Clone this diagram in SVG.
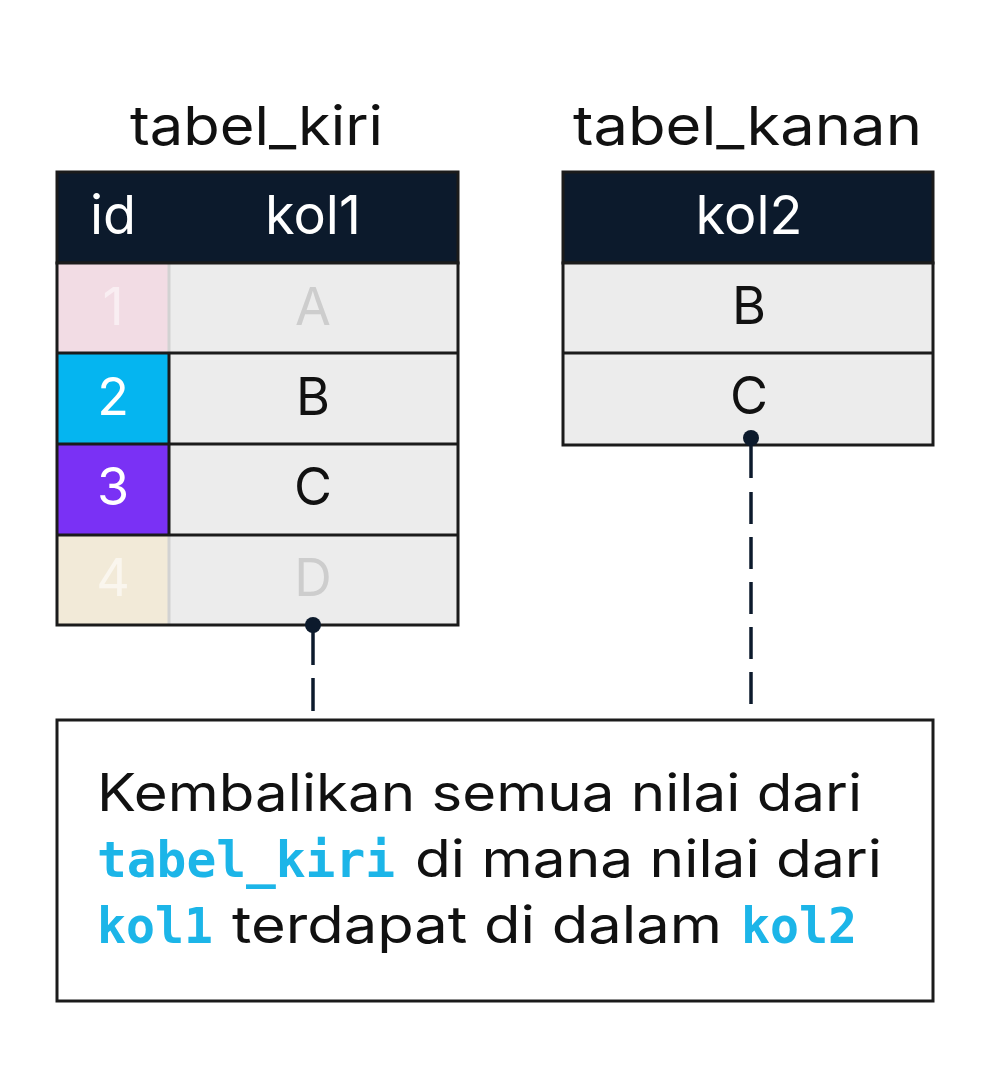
<svg xmlns="http://www.w3.org/2000/svg" width="992" height="1080" viewBox="0 0 992 1080">
  <style>
    .sans { font-family: Inter, "Noto Sans", "Liberation Sans", sans-serif; }
    .mono { font-family: "DejaVu Sans Mono", "Liberation Mono", monospace; font-weight: bold; fill: #1cb5e8; }
    .title { font-size: 54px; fill: #111111; }
    .hdr { font-size: 54px; fill: #ffffff; text-anchor: middle; }
    .cell { font-size: 52px; fill: #111111; text-anchor: middle; }
    .fade { fill: #cdcdcd; }
    .body { font-size: 52px; fill: #111111; }
    .code { font-size: 50px; }
    .bd { stroke: #1b1b1b; stroke-width: 3; fill: none; }
    .hd { fill: #0c1a2c; stroke: #1b1b1b; stroke-width: 3; }
    .gray { fill: #ececec; }
    .conn { stroke: #0c1a2c; stroke-width: 3.5; fill: none; }
    .dot { fill: #0c1a2c; }
  </style>
  <rect width="992" height="1080" fill="#ffffff"/>

  <g id="tabel_kiri">
    <text class="sans title" x="130" y="145" textLength="253" lengthAdjust="spacingAndGlyphs">tabel_kiri</text>
    <rect class="hd" x="57" y="172" width="401" height="91"/>
    <text class="sans hdr" x="113" y="234">id</text>
    <text class="sans hdr" x="313" y="234">kol1</text>
    <!-- rows -->
    <rect class="gray" x="169" y="263" width="289" height="362"/>
    <rect x="57" y="263" width="112" height="90" fill="#f2dce4"/>
    <rect x="57" y="353" width="112" height="91" fill="#05b5f0"/>
    <rect x="57" y="444" width="112" height="91" fill="#7a31f5"/>
    <rect x="57" y="535" width="112" height="90" fill="#f2ead8"/>
    <line x1="169" y1="263" x2="169" y2="353" stroke="#d2d2d2" stroke-width="3"/>
    <line x1="169" y1="535" x2="169" y2="625" stroke="#d2d2d2" stroke-width="3"/>
    <line class="bd" x1="169" y1="353" x2="169" y2="535"/>
    <line class="bd" x1="57" y1="353" x2="458" y2="353"/>
    <line class="bd" x1="57" y1="444" x2="458" y2="444"/>
    <line class="bd" x1="57" y1="535" x2="458" y2="535"/>
    <rect class="bd" x="57" y="263" width="401" height="362"/>
    <text class="sans cell" x="113" y="325" fill="#f9eef2" style="fill:#f9eef2">1</text>
    <text class="sans cell fade" x="313" y="325">A</text>
    <text class="sans cell" x="113" y="415" style="fill:#ffffff">2</text>
    <text class="sans cell" x="313" y="415">B</text>
    <text class="sans cell" x="113" y="505" style="fill:#ffffff">3</text>
    <text class="sans cell" x="313" y="505">C</text>
    <text class="sans cell" x="113" y="596" style="fill:#faf6ee">4</text>
    <text class="sans cell fade" x="313" y="596">D</text>
  </g>

  <g id="tabel_kanan">
    <text class="sans title" x="573" y="145" textLength="349" lengthAdjust="spacingAndGlyphs">tabel_kanan</text>
    <rect class="hd" x="563" y="172" width="370" height="91"/>
    <text class="sans hdr" x="749" y="234">kol2</text>
    <rect class="gray" x="563" y="263" width="370" height="182"/>
    <line class="bd" x1="563" y1="353" x2="933" y2="353"/>
    <rect class="bd" x="563" y="263" width="370" height="182"/>
    <text class="sans cell" x="749" y="324">B</text>
    <text class="sans cell" x="749" y="414">C</text>
  </g>

  <g id="keterangan">
    <rect class="bd" x="57" y="720" width="876" height="281"/>
    <text class="sans body" x="97" y="811" textLength="765" lengthAdjust="spacingAndGlyphs">Kembalikan semua nilai dari</text>
    <text class="mono code" x="97" y="877" textLength="298" lengthAdjust="spacingAndGlyphs">tabel_kiri</text>
    <text class="sans body" x="415" y="877" textLength="467" lengthAdjust="spacingAndGlyphs">di mana nilai dari</text>
    <text class="mono code" x="97" y="943" textLength="116" lengthAdjust="spacingAndGlyphs">kol1</text>
    <text class="sans body" x="232" y="943" textLength="490" lengthAdjust="spacingAndGlyphs">terdapat di dalam</text>
    <text class="mono code" x="741" y="943" textLength="116" lengthAdjust="spacingAndGlyphs">kol2</text>
  </g>

  <g id="connectors">
    <line class="conn" x1="313" y1="625" x2="313" y2="665"/>
    <line class="conn" x1="313" y1="678" x2="313" y2="711"/>
    <circle class="dot" cx="313" cy="625" r="8"/>
    <line class="conn" x1="751" y1="438" x2="751" y2="478"/>
    <line class="conn" x1="751" y1="492" x2="751" y2="706" stroke-dasharray="32 13"/>
    <circle class="dot" cx="751" cy="438" r="8"/>
  </g>
</svg>
